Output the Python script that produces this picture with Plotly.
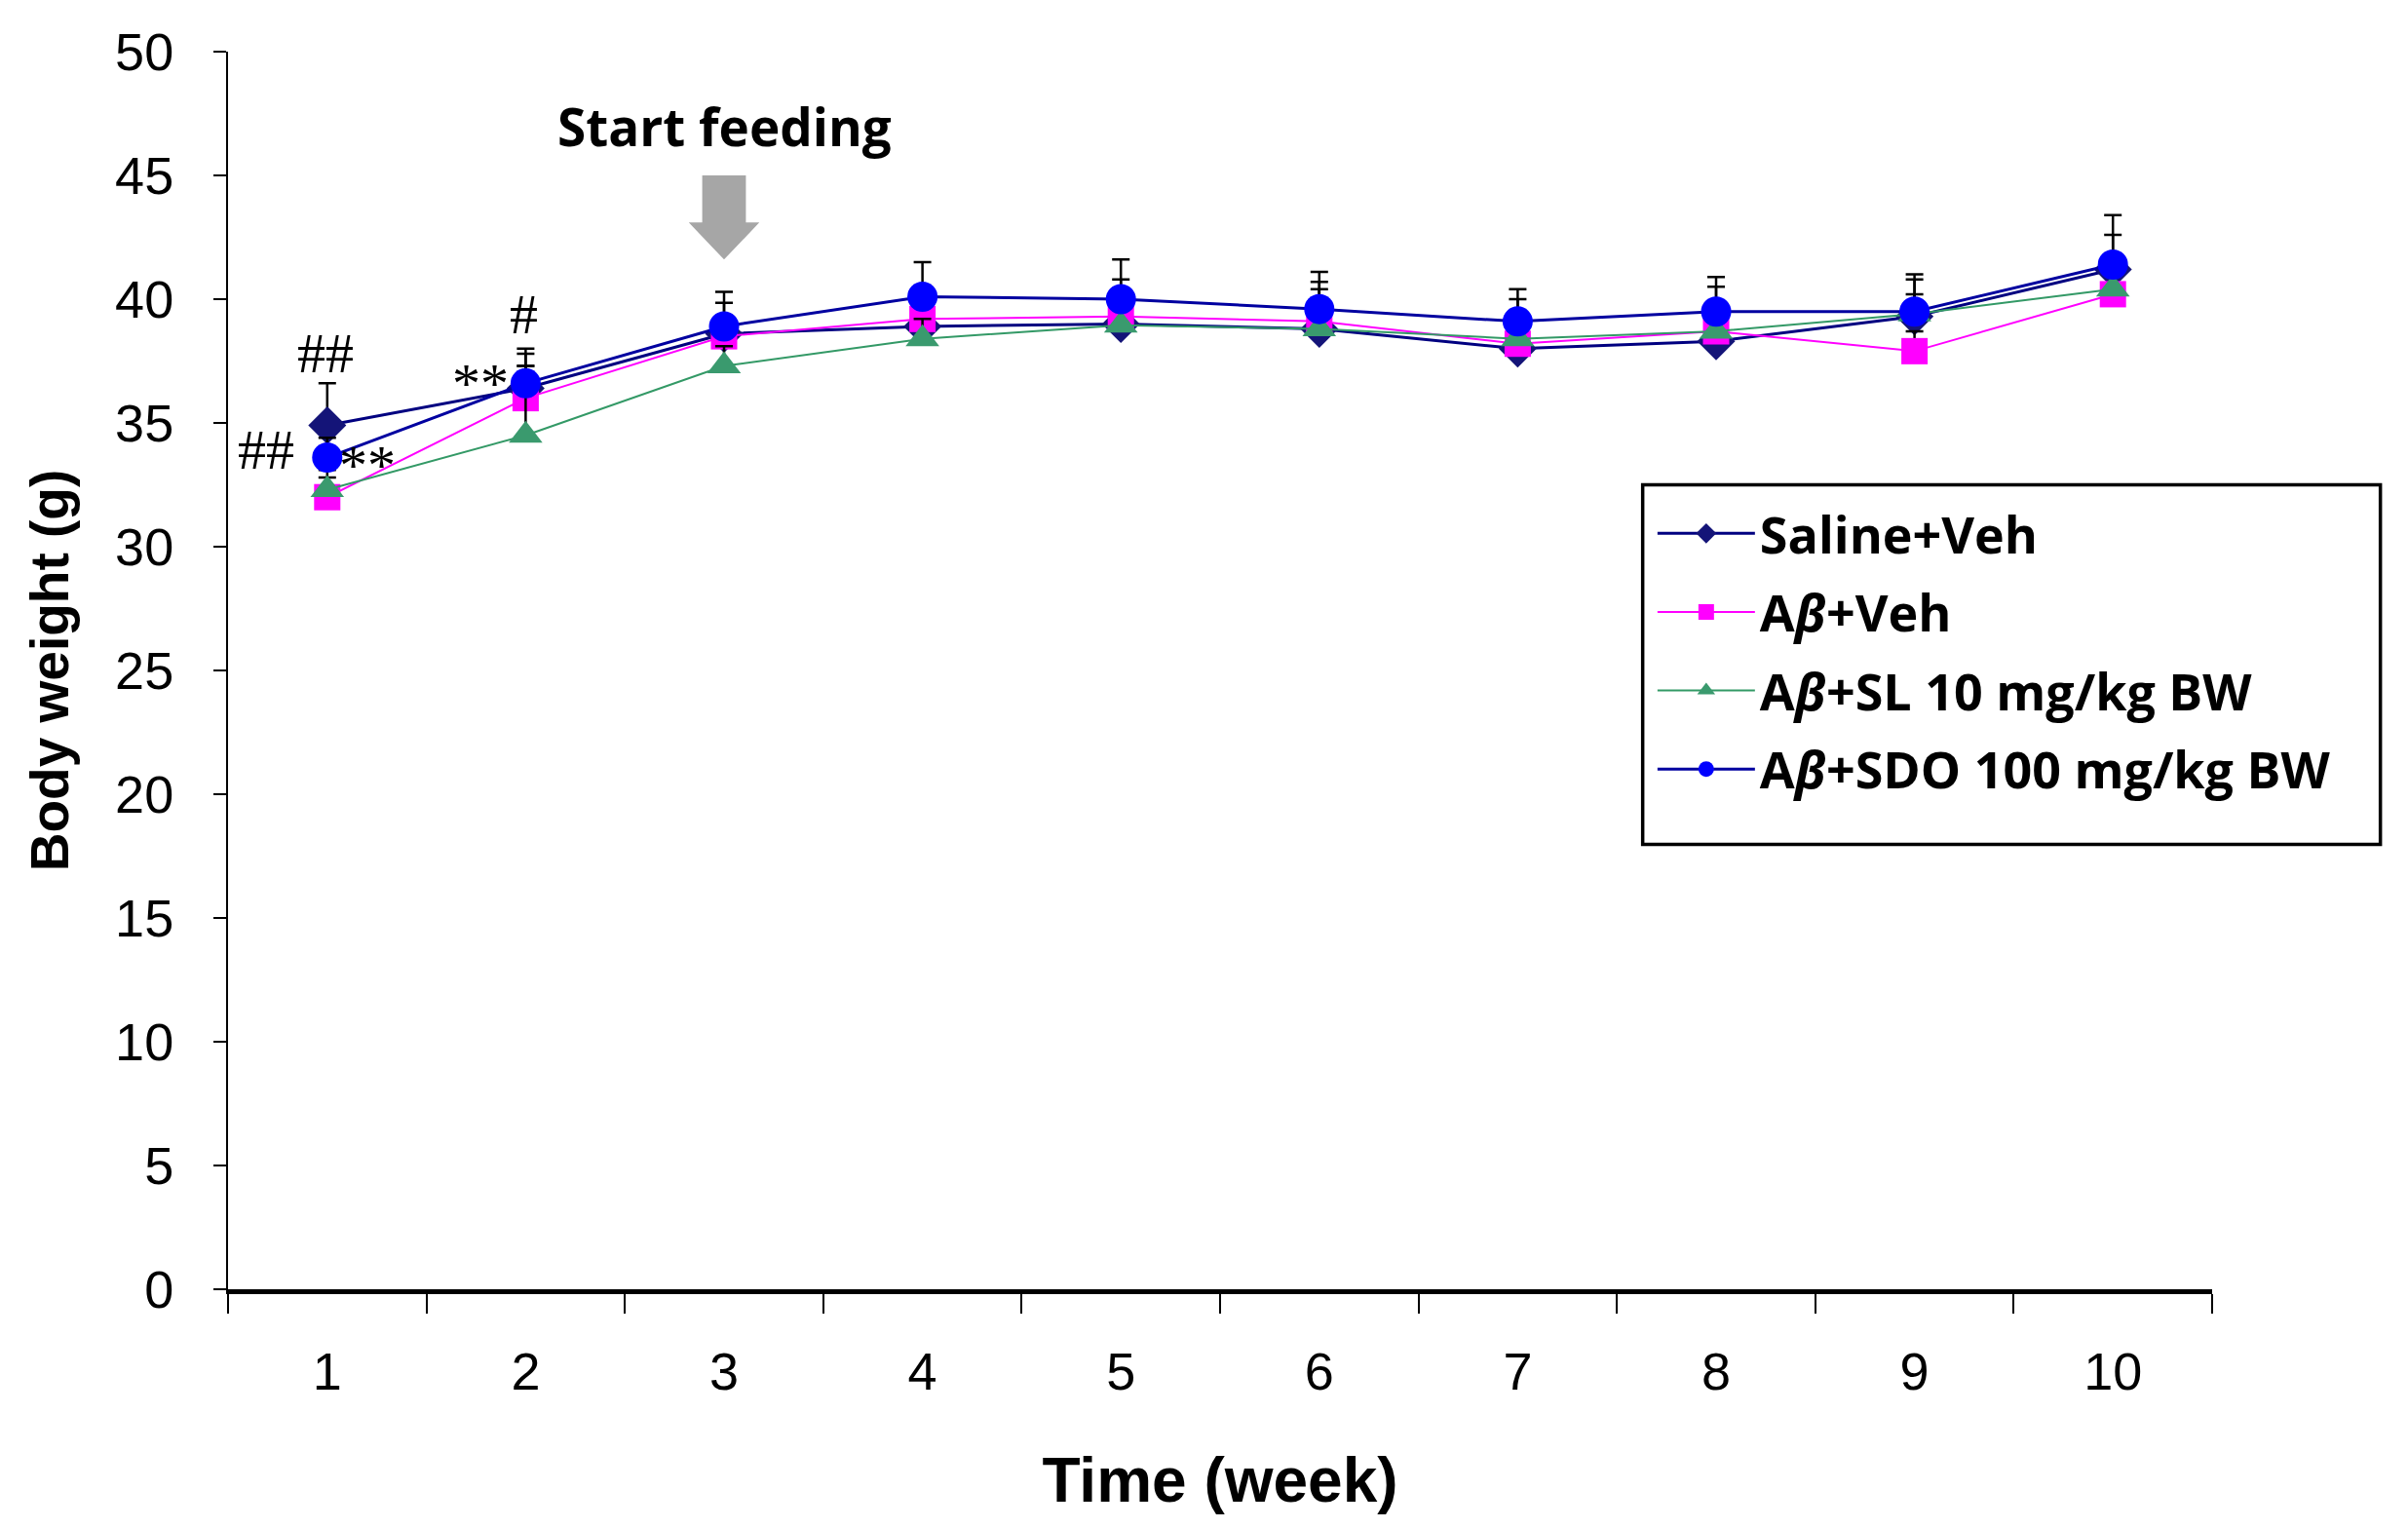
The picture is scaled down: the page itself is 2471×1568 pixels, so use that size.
import plotly.graph_objects as go

weeks = [1, 2, 3, 4, 5, 6, 7, 8, 9, 10]
tick_labels = ["1", "2", "3", "4", "5", "6", "7", "8", "9", "10"]

saline_veh = [34.9, 36.4, 38.6, 38.9, 39.0, 38.8, 38.0, 38.3, 39.3, 41.2]
abeta_veh = [32.0, 36.0, 38.5, 39.2, 39.3, 39.1, 38.2, 38.7, 37.9, 40.2]
abeta_sl = [32.3, 34.5, 37.3, 38.4, 38.95, 38.8, 38.4, 38.7, 39.4, 40.4]
abeta_sdo = [33.6, 36.6, 38.9, 40.1, 40.0, 39.6, 39.1, 39.5, 39.5, 41.4]

saline_err = [1.7, 1.4, 1.25, 0.8, 1.8, 1.9, 2.0, 2.2, 1.5, 1.4]
veh_err = [0.8, 1.3, 0.8, 0.8, 0.8, 1.3, 0.8, 0.8, 0.8, 0.8]
sl_err = [0.8, 2.8, 0.8, 0.8, 0.8, 0.8, 0.8, 0.8, 0.8, 0.8]
sdo_err = [0.8, 1.4, 1.4, 1.4, 1.6, 1.5, 1.3, 1.4, 1.5, 2.0]

names = ["<b>Saline+Veh</b>", "<b>A<i>β</i>+Veh</b>",
         "<b>A<i>β</i>+SL 10 mg/kg BW</b>", "<b>A<i>β</i>+SDO 100 mg/kg BW</b>"]

W, H = 2471, 1568
L, R, T, B = 226, 209, 45, 253

fig = go.Figure()

series = [
    (saline_veh, saline_err, names[0], "#000080", "#141478", "diamond", 30, 3),
    (abeta_veh, veh_err, names[1], "#FF00FF", "#FF00FF", "square", 27, 2),
    (abeta_sl, sl_err, names[2], "#339966", "#3A9A6E", "triangle-up", 30, 2),
    (abeta_sdo, sdo_err, names[3], "#0000A0", "#0000FF", "circle", 31, 3),
]

for i, (vals, err, nm, lc, mc, sym, ms, lw) in enumerate(series):
    fig.add_trace(go.Scatter(
        x=weeks, y=vals, name=nm, mode="lines+markers",
        line=dict(color=lc, width=lw),
        marker=dict(color=mc, symbol=sym, size=ms, line=dict(width=0)),
        error_y=dict(type="data", array=err, symmetric=False, arrayminus=[0] * len(err),
                     color="black", thickness=2.5, width=9),
        legendgroup=f"g{i}",
    ))

annot_font = dict(family="Liberation Serif, Times New Roman, serif", size=58, color="black")
fig.add_annotation(x=0.99, y=37.8, text="##", showarrow=False, font=annot_font)
fig.add_annotation(x=0.69, y=33.9, text="##", showarrow=False, font=annot_font)
fig.add_annotation(x=1.2, y=33.3, text="**", showarrow=False, font=annot_font)
fig.add_annotation(x=1.77, y=36.6, text="**", showarrow=False, font=annot_font)
fig.add_annotation(x=1.99, y=39.4, text="#", showarrow=False, font=annot_font)

fig.add_annotation(x=3, y=47.0, text="<b>Start feeding</b>", showarrow=False,
                   font=dict(family="Open Sans, sans-serif", size=53, color="black"))

# block arrow
hx, sw, hw = 3, 0.11, 0.178
fig.add_shape(type="path", xref="x", yref="y",
              path=(f"M{hx-sw},45.0 L{hx+sw},45.0 L{hx+sw},43.1 L{hx+hw},43.1 "
                    f"L{hx},41.6 L{hx-hw},43.1 L{hx-sw},43.1 Z"),
              fillcolor="#A6A6A6", line=dict(width=0))

# legend frame
fig.add_shape(type="rect", xref="paper", yref="paper",
              x0=0.713, x1=1.0848, y0=0.3595, y1=0.65,
              line=dict(color="black", width=3.5), fillcolor="rgba(0,0,0,0)")

fig.update_layout(
    width=W, height=H,
    margin=dict(l=L, r=R, t=T, b=B),
    paper_bgcolor="white", plot_bgcolor="white",
    showlegend=True,
    legend=dict(
        x=0.718, y=0.6425, xanchor="left", yanchor="top",
        borderwidth=0, bgcolor="rgba(0,0,0,0)",
        font=dict(family="Open Sans, sans-serif", size=52, color="black"),
        tracegroupgap=10, itemwidth=100,
    ),
    font=dict(family="Liberation Sans, Arial, sans-serif", color="black"),
)

fig.update_xaxes(
    range=[0.5, 10.5], tickvals=weeks, ticktext=tick_labels, ticks="",
    tickfont=dict(size=54, family="Liberation Sans, Arial, sans-serif"),
    ticklabelstandoff=33,
    showline=True, linecolor="black", linewidth=5, showgrid=False, zeroline=False,
    minor=dict(tick0=0.5, dtick=1, ticks="outside", ticklen=20, tickwidth=2, tickcolor="black", showgrid=False),
    title=dict(text="<b>Time (week)</b>", font=dict(size=64, family="Liberation Sans, Arial, sans-serif"), standoff=62),
)
fig.update_yaxes(
    range=[0, 50], tickvals=list(range(0, 51, 5)), ticks="outside", ticklen=13, tickwidth=2,
    tickcolor="black",
    tickfont=dict(size=54, family="Liberation Sans, Arial, sans-serif"),
    ticklabelstandoff=30,
    showline=True, linecolor="black", linewidth=2, showgrid=False, zeroline=False,
    title=dict(text="<b>Body weight (g)</b>", font=dict(size=55, family="Liberation Sans, Arial, sans-serif"), standoff=30),
)

fig.write_html("out.html")
